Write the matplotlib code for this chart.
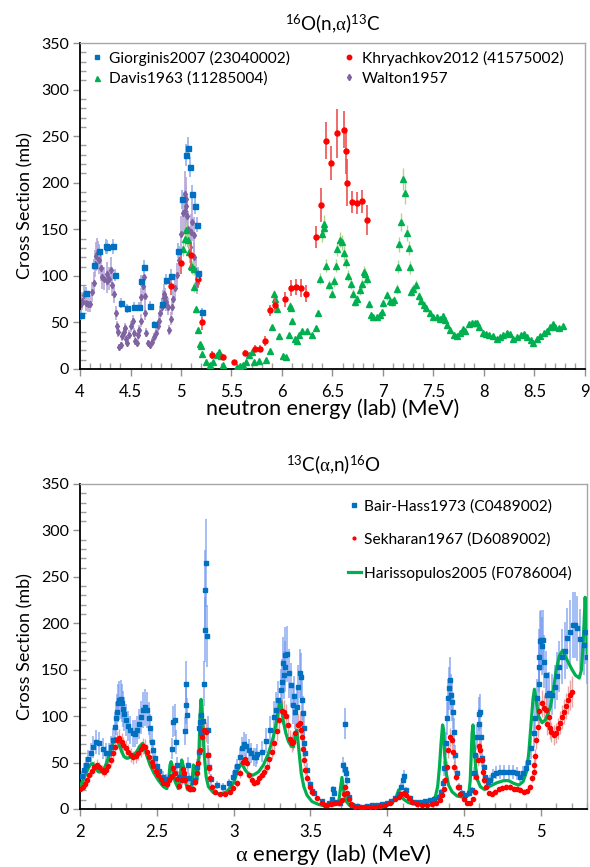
import matplotlib
matplotlib.use('Agg')
import matplotlib.pyplot as plt
from matplotlib.lines import Line2D
from matplotlib.ticker import MultipleLocator, FormatStrFormatter

plt.rcParams['font.family'] = ['Lato', 'DejaVu Sans']
plt.rcParams['mathtext.fontset'] = 'custom'
plt.rcParams['mathtext.rm'] = 'Lato'
plt.rcParams['mathtext.it'] = 'Liberation Serif'

# ---------------- top panel: 16O(n,a)13C ----------------
giorginis_e = [4.007, 4.06, 4.14, 4.185, 4.26, 4.27, 4.33, 4.35, 4.41, 4.47, 4.535, 4.58, 4.60, 4.63,
               4.69, 4.73, 4.81, 4.85, 4.90, 4.97, 5.01, 5.045, 5.07, 5.09, 5.105, 5.135, 5.155, 5.17, 5.205]
giorginis_xs = [58, 82, 112, 127, 132, 131, 132, 101, 71, 65, 67, 67, 95, 110,
                68, 48, 70, 96, 100, 127, 182, 230, 237, 217, 188, 175, 155, 103, 61]
giorginis_err = [5, 6, 6, 7, 8, 8, 8, 6, 5, 5, 5, 5, 6, 7,
                 5, 4, 5, 6, 7, 8, 10, 12, 12, 11, 10, 9, 8, 6, 5]

khry_e = [4.90, 5.00, 5.10, 5.165, 5.205, 5.31, 5.42, 5.52, 5.63, 5.73, 5.78, 5.83, 5.88, 5.93, 6.03,
          6.085, 6.14, 6.185, 6.235, 6.34, 6.385, 6.435, 6.49, 6.54, 6.615, 6.635, 6.645, 6.69, 6.74, 6.79, 6.84]
khry_xs = [89, 114, 122, 97, 50, 15, 13, 7, 17, 22, 22, 30, 63, 69, 75,
           87, 88, 87, 81, 142, 176, 245, 221, 253, 257, 234, 200, 179, 178, 180, 160]
khry_err = [10, 12, 12, 10, 8, 4, 3, 3, 3, 4, 4, 5, 6, 7, 8,
            9, 9, 10, 9, 12, 18, 20, 18, 26, 20, 25, 25, 12, 12, 12, 16]

davis_e = [5.02, 5.04, 5.05, 5.07, 5.08, 5.10, 5.11, 5.125, 5.13, 5.15, 5.165, 5.185, 5.20, 5.21, 5.25,
           5.29, 5.32, 5.36, 5.38, 5.40, 5.42, 5.55, 5.58, 5.61, 5.64, 5.67, 5.70, 5.72, 5.77, 5.845,
           5.88, 5.90, 5.925, 5.935, 5.95, 5.97, 6.005, 6.04, 6.065, 6.08, 6.09, 6.10, 6.13, 6.145, 6.165,
           6.20, 6.245, 6.30, 6.34, 6.355, 6.375, 6.395, 6.415, 6.42, 6.44, 6.47, 6.495, 6.515, 6.535,
           6.545, 6.57, 6.59, 6.615, 6.63, 6.655, 6.68, 6.70, 6.72, 6.74, 6.77, 6.79, 6.81, 6.82, 6.84,
           6.865, 6.88, 6.905, 6.94, 6.97, 6.99, 7.005, 7.04, 7.07, 7.09, 7.11, 7.135, 7.15, 7.16, 7.18,
           7.20, 7.22, 7.24, 7.255, 7.27, 7.28, 7.30, 7.33, 7.36, 7.38, 7.41, 7.43, 7.465, 7.50, 7.53,
           7.56, 7.59, 7.61, 7.63, 7.66, 7.70, 7.73, 7.76, 7.79, 7.81, 7.855, 7.88, 7.91, 7.935, 7.95,
           7.99, 8.02, 8.05, 8.09, 8.125, 8.16, 8.19, 8.225, 8.26, 8.29, 8.33, 8.365, 8.40, 8.43, 8.465,
           8.49, 8.52, 8.555, 8.59, 8.62, 8.655, 8.68, 8.705, 8.74, 8.78]
davis_xs = [129, 140, 149, 139, 126, 111, 109, 107, 88, 64, 42, 27, 25, 16, 8,
            4, 7, 15, 18, 14, 4, 2.5, 3, 4, 8, 15, 18, 8, 8.6, 10,
            19, 45, 80, 75, 64, 35, 14, 12.5, 36, 68, 66, 52, 32, 30, 36,
            41, 41, 36, 44, 60, 97, 145, 151, 156, 111, 90, 81, 94, 111,
            129, 139, 136, 125, 115, 100, 91, 81, 72, 75, 85, 91, 104, 102, 97,
            70, 58, 56, 56, 58, 61, 71, 79, 73, 72, 74, 86, 110, 134, 158,
            204, 189, 146, 130, 109, 83, 86, 90, 78, 73, 69, 65, 60, 56, 56,
            54, 57, 53, 47, 42, 37, 35, 39, 42.5, 41, 48, 49.6, 49, 49.6, 44.6,
            39, 37.5, 36, 35, 32, 34.6, 37, 39, 37.5, 32, 34.6, 36, 37.5, 34.6, 31,
            28, 32, 35, 39, 41, 45, 48, 45, 44, 46]

walton_e = [4.007, 4.02, 4.04, 4.055, 4.075, 4.10, 4.12, 4.14, 4.15, 4.155, 4.165, 4.18, 4.19, 4.21,
            4.22, 4.24, 4.265, 4.27, 4.29, 4.31, 4.32, 4.34, 4.36, 4.37, 4.38, 4.39, 4.41, 4.42, 4.44,
            4.45, 4.46, 4.47, 4.485, 4.505, 4.52, 4.53, 4.545, 4.56, 4.57, 4.585, 4.60, 4.605, 4.62,
            4.63, 4.64, 4.645, 4.65, 4.67, 4.69, 4.715, 4.735, 4.75, 4.77, 4.78, 4.795, 4.81, 4.82,
            4.83, 4.84, 4.855, 4.87, 4.88, 4.90, 4.91, 4.925, 4.94, 4.96, 4.98, 5.00, 5.015, 5.035,
            5.04, 5.045, 5.05, 5.06, 5.07, 5.085, 5.10, 5.11, 5.125, 5.13, 5.145, 5.16]
walton_xs = [70, 73, 79, 71, 70, 70, 83, 92, 113, 121, 124, 122, 117, 108,
             99, 97, 102, 94, 97, 106, 90, 81, 60, 46, 40, 24, 26, 35, 40,
             44, 32, 28, 37, 46, 51, 39, 30, 28, 36, 42, 52, 77, 89,
             99, 78, 60, 39, 28, 26, 29, 34, 39, 46, 52, 60, 67, 75,
             81, 77, 72, 67, 42, 54, 67, 75, 87, 101, 117, 145, 168, 170,
             188, 182, 175, 164, 150, 131, 147, 158, 144, 120, 105, 92]

# ---------------- bottom panel: 13C(a,n)16O ----------------
bair_e = [2.011, 2.026, 2.04, 2.054, 2.07, 2.087, 2.104, 2.126, 2.148, 2.17, 2.187, 2.20, 2.217, 2.228,
          2.235, 2.243, 2.25, 2.256, 2.265, 2.274, 2.278, 2.287, 2.30, 2.313, 2.326, 2.343, 2.358, 2.373,
          2.386, 2.40, 2.412, 2.425, 2.438, 2.45, 2.456, 2.467, 2.478, 2.49, 2.504, 2.517, 2.539, 2.56,
          2.586, 2.60, 2.608, 2.617, 2.625, 2.634, 2.645, 2.662, 2.678, 2.684, 2.689, 2.692, 2.696, 2.70,
          2.712, 2.734, 2.75, 2.764, 2.773, 2.777, 2.78, 2.785, 2.79, 2.80, 2.806, 2.812, 2.815, 2.819,
          2.825, 2.83, 2.836, 2.84, 2.853, 2.89, 2.93, 2.968, 2.999, 3.012, 3.025, 3.042, 3.055, 3.068,
          3.08, 3.097, 3.112, 3.13, 3.147, 3.155, 3.184, 3.21, 3.238, 3.264, 3.277, 3.292, 3.307, 3.318,
          3.324, 3.329, 3.335, 3.337, 3.35, 3.363, 3.375, 3.386, 3.39, 3.40, 3.41, 3.422, 3.429, 3.44,
          3.446, 3.45, 3.455, 3.46, 3.466, 3.477, 3.494, 3.513, 3.52, 3.574, 3.618, 3.64, 3.65, 3.655,
          3.668, 3.694, 3.715, 3.722, 3.726, 3.733, 3.737, 3.748, 3.77, 3.80, 3.835, 3.87, 3.90, 3.93,
          3.965, 3.998, 4.026, 4.052, 4.074, 4.09, 4.102, 4.11, 4.124, 4.15, 4.182, 4.215, 4.248, 4.28,
          4.306, 4.334, 4.35, 4.362, 4.37, 4.38, 4.389, 4.393, 4.399, 4.406, 4.415, 4.42, 4.426, 4.432,
          4.443, 4.454, 4.467, 4.486, 4.508, 4.53, 4.552, 4.562, 4.573, 4.584, 4.595, 4.597, 4.606, 4.61,
          4.617, 4.627, 4.638, 4.653, 4.671, 4.689, 4.71, 4.736, 4.762, 4.79, 4.82, 4.845, 4.862, 4.884,
          4.90, 4.914, 4.936, 4.953, 4.964, 4.975, 4.986, 4.988, 4.99, 4.995, 5.003, 5.008, 5.014, 5.018,
          5.03, 5.04, 5.055, 5.073, 5.09, 5.105, 5.116, 5.138, 5.155, 5.17, 5.192, 5.207, 5.22, 5.236,
          5.257, 5.279, 5.285, 5.30]
bair_xs = [35, 42, 47, 53.5, 60, 67, 72.5, 70.7, 65, 60, 60, 67, 74, 88.6,
           97.6, 104.8, 113.8, 117, 118, 114, 108, 102, 96, 89, 85, 81.5, 80.8, 85,
           91.5, 98.7, 106.6, 109.5, 106.6, 97.6, 86.8, 72.5, 63.5, 54.6, 46, 41, 34.8, 32,
           34.8, 65, 94, 95.8, 72.5, 47.4, 34.8, 32, 34.8, 84.3, 112, 135, 101, 47,
           33, 29.4, 31, 45.6, 61.7, 86.9, 94, 101, 81.5, 95, 134.6, 193, 236, 265,
           186, 85, 58, 45.6, 32, 26, 24, 27.6, 34.8, 40, 46, 56, 66, 70,
           68, 63.5, 60, 56, 55.6, 59, 61.7, 73.6, 85, 98.7, 106.6, 117, 128, 137,
           157, 144, 153, 166, 167, 146, 133.5, 112, 121.7, 104.8, 110, 131.7, 146, 142.5,
           117.4, 103, 87, 70.7, 60, 42, 27, 19, 17, 9, 6, 10.4, 21, 17,
           8, 6, 47.4, 42.7, 92, 38.4, 31, 13, 4.3, 3.2, 2.5, 3, 4, 4.3,
           5.4, 6.8, 9, 11.5, 16, 24, 31, 35.5, 20.5, 11.5, 8, 7.5, 8.6, 9.7,
           10.4, 13.3, 18.7, 27.6, 43.8, 70.7, 97.6, 119, 130, 139, 122.8, 115, 104.8, 83,
           58, 38.4, 24, 17.6, 15, 17, 20.5, 38.4, 58, 78, 102, 92, 104.8, 78,
           54.6, 45.6, 34.8, 29.4, 31, 36.6, 39, 40, 40, 40, 40, 38.4, 34.8, 39,
           43.8, 51, 65.4, 81.5, 97.6, 119, 135, 153, 164, 181, 182, 175.5, 182, 158.6,
           144, 122.8, 124.6, 122.8, 131.7, 143, 153, 164, 170.5, 183.8, 191, 198, 198, 194.6,
           182.7, 176.6, 191, 164]

sekh_e = [2.0, 2.017, 2.033, 2.048, 2.06, 2.076, 2.09, 2.108, 2.126, 2.141, 2.156, 2.17, 2.184, 2.20,
          2.213, 2.228, 2.243, 2.256, 2.271, 2.282, 2.30, 2.315, 2.33, 2.347, 2.365, 2.38, 2.395, 2.412,
          2.425, 2.438, 2.451, 2.467, 2.478, 2.495, 2.51, 2.526, 2.543, 2.565, 2.582, 2.597, 2.608, 2.619,
          2.63, 2.647, 2.662, 2.669, 2.678, 2.685, 2.70, 2.717, 2.734, 2.75, 2.76, 2.771, 2.782, 2.793,
          2.808, 2.821, 2.83, 2.838, 2.847, 2.858, 2.88, 2.912, 2.945, 2.977, 2.999, 3.025, 3.042, 3.06,
          3.077, 3.09, 3.103, 3.119, 3.134, 3.151, 3.168, 3.184, 3.199, 3.216, 3.233, 3.249, 3.264, 3.281,
          3.298, 3.314, 3.33, 3.342, 3.357, 3.368, 3.379, 3.386, 3.40, 3.416, 3.429, 3.438, 3.444, 3.45,
          3.457, 3.466, 3.48, 3.494, 3.51, 3.542, 3.575, 3.596, 3.607, 3.633, 3.661, 3.683, 3.705, 3.72,
          3.728, 3.737, 3.748, 3.763, 3.792, 3.824, 3.857, 3.889, 3.922, 3.954, 3.987, 4.02, 4.052, 4.074,
          4.09, 4.107, 4.124, 4.139, 4.16, 4.193, 4.226, 4.258, 4.29, 4.319, 4.34, 4.356, 4.367, 4.378,
          4.389, 4.397, 4.406, 4.419, 4.428, 4.436, 4.445, 4.458, 4.476, 4.497, 4.519, 4.54, 4.558, 4.569,
          4.58, 4.588, 4.597, 4.606, 4.614, 4.623, 4.632, 4.645, 4.66, 4.682, 4.704, 4.725, 4.747, 4.775,
          4.80, 4.823, 4.845, 4.866, 4.888, 4.91, 4.927, 4.943, 4.953, 4.958, 4.964, 4.97, 4.978, 4.986,
          5.008, 5.018, 5.03, 5.04, 5.05, 5.062, 5.068, 5.083, 5.099, 5.112, 5.125, 5.138, 5.151, 5.164,
          5.177, 5.192, 5.203]
sekh_xs = [22, 24, 27, 31, 36.6, 41, 45.6, 47.4, 45, 42, 40, 42, 46.3, 52.8,
           60, 67, 74.3, 76, 72.5, 69, 65.4, 61.7, 58, 55.6, 57, 60.6, 64.3, 67.8,
           66.4, 61.7, 56.3, 51, 46.3, 41.2, 36.6, 32, 28.3, 27, 31, 35.5, 43.8, 39,
           32, 24.8, 31, 42.7, 38.4, 31, 24, 21, 22, 29.4, 38.4, 49, 63.5, 78,
           85, 83, 58, 43.8, 33, 24, 18.7, 16, 16, 18.7, 22.3, 27.6, 38.4, 51,
           53.5, 49, 36.6, 31, 28.3, 29.4, 33, 36.6, 40, 45.6, 53.5, 61.7, 71.4, 84.3,
           95.8, 105, 104, 100, 90.5, 75, 71, 72.5, 82, 90.5, 93, 85, 77, 64.5,
           52.8, 42, 33, 24, 18, 11.5, 6, 4, 4.3, 5.4, 6.8, 6, 9.7, 16,
           24, 17.6, 10.4, 5.4, 2.5, 1.8, 1.8, 2.5, 2.5, 3.2, 4.3, 6, 10.4, 13.3,
           16, 17.6, 15, 11.5, 8, 5.4, 4.3, 4.3, 5.4, 6.8, 9.7, 15, 21, 31,
           45.6, 63.5, 77, 74.3, 61.7, 45.6, 34.8, 24, 16, 10.4, 6.8, 6, 10.4, 18.7,
           34.8, 52.8, 67.8, 63.5, 52.8, 40, 31, 24, 17, 16, 18.7, 21, 23, 24,
           24, 22, 22, 20.5, 18.7, 19.7, 24, 33, 40, 47.4, 57, 74, 88.6, 105,
           113.8, 109, 106.6, 92, 99, 87, 83, 79.7, 81.5, 87, 93, 99.4, 104.8, 111,
           117.4, 122.8, 126.4]

hari_e = [2.0, 2.02, 2.043, 2.065, 2.083, 2.098, 2.12, 2.141, 2.163, 2.184, 2.206, 2.228, 2.243, 2.256,
          2.271, 2.287, 2.304, 2.326, 2.347, 2.369, 2.39, 2.408, 2.419, 2.434, 2.456, 2.482, 2.51, 2.543,
          2.565, 2.575, 2.586, 2.593, 2.604, 2.619, 2.64, 2.651, 2.662, 2.673, 2.684, 2.70, 2.717, 2.728,
          2.738, 2.749, 2.76, 2.771, 2.782, 2.788, 2.797, 2.808, 2.821, 2.836, 2.868, 2.912, 2.956, 2.999,
          3.031, 3.053, 3.075, 3.103, 3.129, 3.162, 3.194, 3.227, 3.259, 3.281, 3.298, 3.307, 3.324, 3.34,
          3.357, 3.375, 3.39, 3.40, 3.41, 3.418, 3.427, 3.44, 3.457, 3.477, 3.51, 3.552, 3.596, 3.65,
          3.683, 3.694, 3.705, 3.715, 3.733, 3.759, 3.824, 3.91, 3.975, 4.03, 4.059, 4.074, 4.085, 4.107,
          4.139, 4.172, 4.237, 4.29, 4.313, 4.328, 4.34, 4.35, 4.36, 4.367, 4.373, 4.384, 4.399, 4.421,
          4.454, 4.497, 4.53, 4.54, 4.552, 4.558, 4.567, 4.575, 4.588, 4.606, 4.632, 4.671, 4.714, 4.758,
          4.79, 4.823, 4.856, 4.884, 4.906, 4.921, 4.936, 4.949, 4.958, 4.971, 4.986, 5.008, 5.03, 5.062,
          5.083, 5.10, 5.12, 5.142, 5.16, 5.181, 5.203, 5.225, 5.25, 5.264, 5.272, 5.281, 5.288, 5.295,
          5.303]
hari_xs = [24, 31, 40, 47.4, 49, 43.8, 40, 40, 45.6, 54.6, 67, 76, 75, 69,
           61.7, 56.3, 54.6, 55.6, 58, 61.7, 67.8, 70.7, 67, 58, 47.4, 38.4, 31, 24,
           22, 27.6, 47.4, 51, 40, 29.4, 22, 31, 52.8, 45.6, 31, 21, 19.7, 27.6,
           47.4, 42, 31, 45.6, 101, 118, 99.4, 60, 34.8, 24, 17.6, 16, 18.7, 27.6,
           43.8, 49, 42, 36.6, 36.6, 40, 47.4, 60, 78, 95.8, 114, 115, 94, 81.5,
           72.5, 67.8, 67, 78, 85, 74.3, 60, 38.4, 24, 15, 8, 5, 3.2, 4.3,
           6, 20.5, 34, 20.5, 8, 3.2, 1.4, 1.4, 2.5, 6, 13.3, 20.5, 15, 10.4,
           6.8, 5.4, 6, 9, 13.3, 24, 45.6, 70.7, 90.5, 85, 60, 38.4, 25.8, 18.7,
           14, 12.6, 15, 31, 81.5, 90.5, 63.5, 45.6, 31, 24, 21, 24.8, 28.3, 30.5,
           30.5, 27.6, 25.8, 29.4, 40, 60, 92, 119, 129, 115.6, 99.4, 93, 96, 110,
           130, 150, 165, 171, 164, 157, 150, 144, 141, 150, 171, 200, 228, 205,
           168]

# relative uncertainties
walton_rel = 0.13
davis_rel = 0.06
bair_rel = 0.18
sekh_rel = 0.13

BLUE = '#0070C0'
RED = '#FF0000'
GREEN = '#00B050'
PURPLE = '#8064A2'


def style_axes(ax, xmin, xmax):
    ax.set_xlim(xmin, xmax)
    ax.set_ylim(0, 350)
    ax.xaxis.set_major_locator(MultipleLocator(0.5))
    ax.xaxis.set_minor_locator(MultipleLocator(0.1))
    ax.yaxis.set_major_locator(MultipleLocator(50))
    ax.yaxis.set_minor_locator(MultipleLocator(10))
    ax.xaxis.set_major_formatter(FormatStrFormatter('%g'))
    ax.tick_params(which='major', direction='out', length=5, width=1, color='#909090',
                   labelsize=11.5, pad=3)
    ax.tick_params(which='minor', direction='in', length=4, width=1, color='#A0A0A0')
    ax.tick_params(axis='x', labelsize=12, pad=6)
    for side in ['left', 'bottom']:
        ax.spines[side].set_color('black')
        ax.spines[side].set_linewidth(1.3)
    for side in ['top', 'right']:
        ax.spines[side].set_color('#A6A6A6')
        ax.spines[side].set_linewidth(1.0)
    ax.set_ylabel('Cross Section (mb)', fontsize=13, labelpad=5)


fig = plt.figure(figsize=(5.9, 8.67), dpi=100)

# ---- top ----
ax1 = fig.add_axes([0.1356, 0.5744, 0.8559, 0.376])
style_axes(ax1, 4, 9)

ax1.errorbar(walton_e, walton_xs, yerr=[v * walton_rel for v in walton_xs], xerr=0.008,
             fmt='d', ms=3.2, color=PURPLE, ecolor='#B8A8D8', elinewidth=1.2, capsize=0, zorder=2)
ax1.errorbar(davis_e, davis_xs, yerr=[v * davis_rel for v in davis_xs], xerr=0.008,
             fmt='^', ms=4.2, color=GREEN, ecolor='#A9D88A', elinewidth=1.0, capsize=0, zorder=3)
ax1.errorbar(khry_e, khry_xs, yerr=khry_err, xerr=0.01,
             fmt='o', ms=3.6, color=RED, ecolor='#F05050', elinewidth=1.2, capsize=0, zorder=4)
ax1.errorbar(giorginis_e, giorginis_xs, yerr=giorginis_err,
             fmt='s', ms=3.6, color=BLUE, ecolor='#8FB4EF', elinewidth=1.2, capsize=0, zorder=5)

ax1.set_xlabel('neutron energy (lab) (MeV)', fontsize=15.5, labelpad=-1)
ax1.set_title(r'$^{16}$O(n,$\alpha$)$^{13}$C', fontsize=13.5, pad=9)

h_top = [Line2D([], [], ls='', marker='s', ms=3.2, color=BLUE),
         Line2D([], [], ls='', marker='^', ms=3.6, color=GREEN),
         Line2D([], [], ls='', marker='o', ms=3.2, color=RED),
         Line2D([], [], ls='', marker='d', ms=3.2, color=PURPLE)]
l_top = ['Giorginis2007 (23040002)', 'Davis1963 (11285004)',
         'Khryachkov2012 (41575002)', 'Walton1957']
ax1.legend(h_top, l_top, ncol=2, loc='upper left', bbox_to_anchor=(-0.01, 1.02), frameon=False,
           fontsize=11.2, handlelength=1.0, handletextpad=0.3, columnspacing=3.3, labelspacing=0.4,
           borderaxespad=0.5)

# ---- bottom ----
ax2 = fig.add_axes([0.1356, 0.0669, 0.8593, 0.3749])
style_axes(ax2, 2, 5.3)

ax2.errorbar(bair_e, bair_xs, yerr=[v * bair_rel for v in bair_xs],
             fmt='none', ecolor='#7098F0', elinewidth=1.1, alpha=0.8, zorder=1)
ax2.errorbar(sekh_e, sekh_xs, yerr=[v * sekh_rel for v in sekh_xs], xerr=0.012,
             fmt='none', ecolor='#E08888', elinewidth=1.0, alpha=0.75, zorder=2)
ax2.plot(hari_e, hari_xs, color=GREEN, lw=2.3, zorder=3)
ax2.plot(bair_e, bair_xs, ls='', marker='s', ms=3.0, color=BLUE, zorder=4)
ax2.plot(sekh_e, sekh_xs, ls='', marker='o', ms=3.0, color=RED, zorder=5)

ax2.set_xlabel(r'$\alpha$ energy (lab) (MeV)', fontsize=16, labelpad=1)
ax2.set_title(r'$^{13}$C($\alpha$,n)$^{16}$O', fontsize=13.5, pad=9)

h_bot = [Line2D([], [], ls='', marker='s', ms=2.5, color=BLUE),
         Line2D([], [], ls='', marker='o', ms=2.0, color=RED),
         Line2D([], [], color=GREEN, lw=2.3)]
l_bot = ['Bair-Hass1973 (C0489002)', 'Sekharan1967 (D6089002)', 'Harissopulos2005 (F0786004)']
ax2.legend(h_bot, l_bot, loc='upper right', bbox_to_anchor=(1.0, 1.0), frameon=False,
           fontsize=11.2, handlelength=0.8, handletextpad=0.2, labelspacing=1.2, borderaxespad=0.6)

fig.savefig('out.png', dpi=100)
